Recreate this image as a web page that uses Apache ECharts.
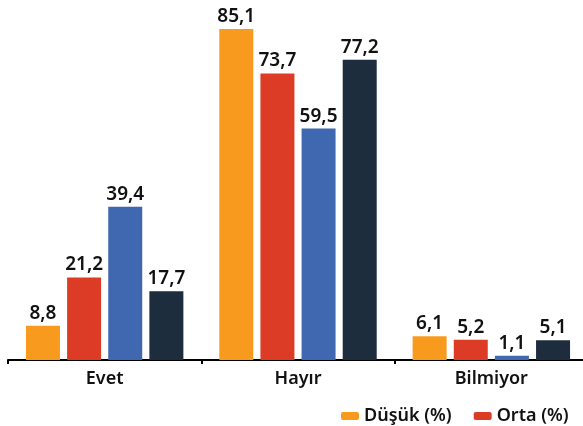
<!DOCTYPE html>
<html>
<head>
<meta charset="utf-8">
<script src="https://cdn.jsdelivr.net/npm/echarts@6/dist/echarts.min.js"></script>
<style>
html, body { margin: 0; padding: 0; overflow: hidden; background: #fff; }
#main { width: 800px; height: 426px; }
</style>
</head>
<body>
<div id="main"></div>
<script>
// kategoriler ve seriler
var categories = ['Evet', 'Hayır', 'Bilmiyor'];
var seriesNames = ['Düşük (%)', 'Orta (%)', 'Yüksek (%)', 'Toplam (%)'];
var dusuk = [8.8, 85.1, 6.1];
var orta = [21.2, 73.7, 5.2];
var yuksek = [39.4, 59.5, 1.1];
var toplam = [17.7, 77.2, 5.1];
var colors = ['#F89A1E', '#DC3C26', '#4068B0', '#1E2D3D'];

var font = '"Noto Sans", sans-serif';
var values = [dusuk, orta, yuksek, toplam];

var series = values.map(function (d, i) {
  return {
    name: seriesNames[i],
    type: 'bar',
    data: d,
    barWidth: 34,
    barGap: '21%',
    itemStyle: { color: colors[i] },
    label: {
      show: true,
      position: 'top',
      distance: 3,
      color: '#111',
      fontFamily: font,
      fontWeight: 600,
      fontSize: 19,
      formatter: function (p) { return String(p.value).replace('.', ','); }
    }
  };
});

var myChart = echarts.init(document.getElementById('main'));
myChart.setOption({
  animation: false,
  grid: { left: 8, right: 212, top: 10, bottom: 66 },
  legend: {
    // sadece görünen iki öğe
    data: seriesNames.slice(0, 2),
    left: 336,
    top: 402,
    icon: 'roundRect',
    itemWidth: 18,
    itemHeight: 8,
    itemGap: 22,
    textStyle: { color: '#111', fontFamily: font, fontSize: 18, fontWeight: 600 }
  },
  xAxis: {
    type: 'category',
    data: categories,
    axisLine: { lineStyle: { color: '#000', width: 2 } },
    axisTick: { show: true, length: 4, lineStyle: { color: '#000', width: 2 } },
    axisLabel: { color: '#111', fontFamily: font, fontSize: 18, fontWeight: 600, margin: 10 }
  },
  yAxis: {
    type: 'value',
    min: 0,
    max: 90,
    show: false,
    splitLine: { show: false }
  },
  series: series
});
</script>
</body>
</html>
